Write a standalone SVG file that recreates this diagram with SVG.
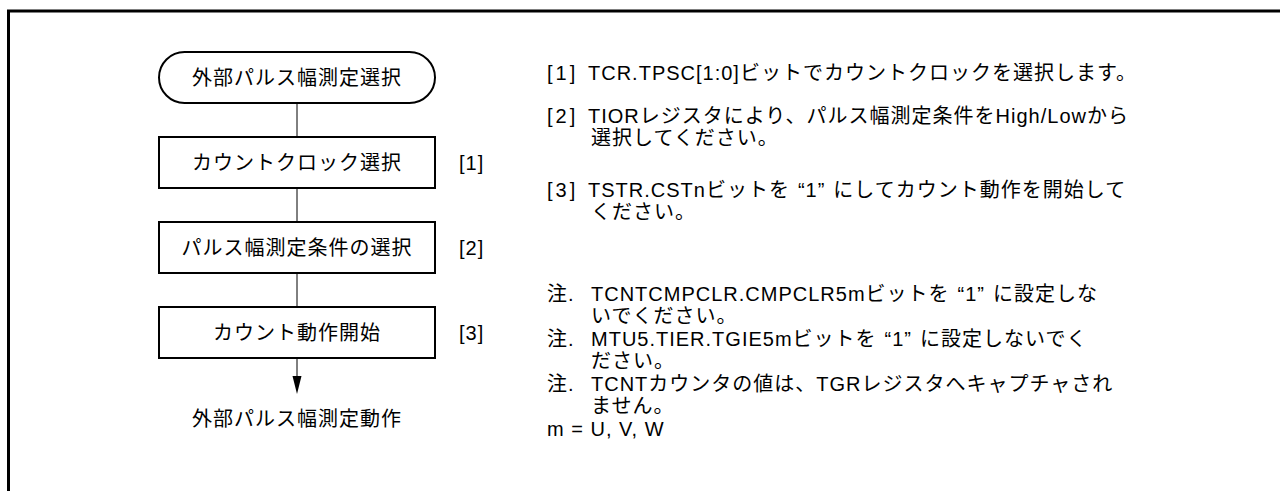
<svg xmlns="http://www.w3.org/2000/svg" width="1280" height="491" viewBox="0 0 1280 491">
<style>
text{font-family:"Liberation Sans","Noto Sans CJK JP",sans-serif;font-size:20px;fill:#000;letter-spacing:1px}
.mid{text-anchor:middle}
.br{letter-spacing:3px}
.node{fill:#fff;stroke:#000;stroke-width:2}
.conn{stroke:#000;stroke-width:1;fill:none}
</style>
<defs>
<marker id="arr" viewBox="0 0 10 18" refX="10" refY="9" markerWidth="10" markerHeight="18" markerUnits="userSpaceOnUse" orient="auto">
<path d="M0,0 L10,9 L0,18 Z" fill="#000" transform="rotate(0)"/>
</marker>
</defs>
<g id="frame">
<path d="M8.5,491 V11 H1280" fill="none" stroke="#000" stroke-width="3"/>
</g>
<g id="connectors">
<line class="conn" x1="297" y1="103" x2="297" y2="137"/>
<line class="conn" x1="297" y1="188" x2="297" y2="222"/>
<line class="conn" x1="297" y1="273" x2="297" y2="307"/>
<line class="conn" x1="297" y1="358" x2="297" y2="376"/>
<path d="M292.5,376 L301.5,376 L297,394 Z" fill="#000"/>
</g>
<g id="start">
<rect class="node" x="159" y="52" width="276" height="51" rx="25.5"/>
<text class="mid" x="297" y="85">外部パルス幅測定選択</text>
</g>
<g id="step1">
<rect class="node" x="159" y="137" width="276" height="51"/>
<text class="mid" x="297" y="170">カウントクロック選択</text>
<text x="459" y="170">[1]</text>
</g>
<g id="step2">
<rect class="node" x="159" y="222" width="276" height="51"/>
<text class="mid" x="297" y="255">パルス幅測定条件の選択</text>
<text x="459" y="255">[2]</text>
</g>
<g id="step3">
<rect class="node" x="159" y="307" width="276" height="51"/>
<text class="mid" x="297" y="340">カウント動作開始</text>
<text x="459" y="340">[3]</text>
</g>
<g id="end">
<text class="mid" x="297" y="426">外部パルス幅測定動作</text>
</g>
<g id="notes">
<text class="br" x="547" y="80">[1]</text>
<text x="588" y="80">TCR.TPSC[1:0]ビットでカウントクロックを選択します。</text>
<text class="br" x="547" y="123">[2]</text>
<text x="588" y="123">TIORレジスタにより、パルス幅測定条件をHigh/Lowから</text>
<text x="591" y="145">選択してください。</text>
<text class="br" x="547" y="197">[3]</text>
<text x="588" y="197">TSTR.CSTnビットを<tspan dx="8">“1”</tspan><tspan dx="8">にしてカウント動作を開始して</tspan></text>
<text x="591" y="219">ください。</text>
<text x="547" y="301">注.</text>
<text x="591" y="301">TCNTCMPCLR.CMPCLR5mビットを<tspan dx="8">“1”</tspan><tspan dx="8">に設定しな</tspan></text>
<text x="591" y="323">いでください。</text>
<text x="547" y="346">注.</text>
<text x="591" y="346">MTU5.TIER.TGIE5mビットを<tspan dx="8">“1”</tspan><tspan dx="8">に設定しないでく</tspan></text>
<text x="591" y="368">ださい。</text>
<text x="547" y="391">注.</text>
<text x="591" y="391">TCNTカウンタの値は、TGRレジスタへキャプチャされ</text>
<text x="591" y="413">ません。</text>
<text x="547" y="436">m = U, V, W</text>
</g>
</svg>
